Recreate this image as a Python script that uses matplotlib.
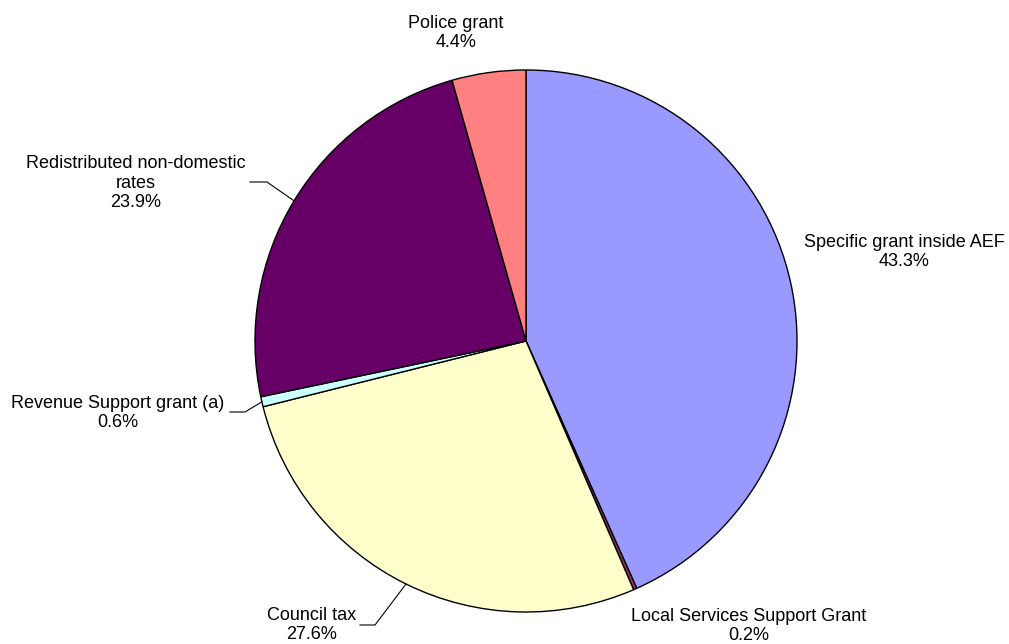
import numpy as np
import matplotlib.pyplot as plt

plt.rcParams['font.family'] = ['Liberation Sans', 'DejaVu Sans']

labels = ['Specific grant inside AEF', 'Local Services Support Grant', 'Council tax',
          'Revenue Support grant (a)', 'Redistributed non-domestic\nrates', 'Police grant']
shares = [43.3, 0.2, 27.6, 0.6, 23.9, 4.4]
colors = ['#9999FF', '#993366', '#FFFFCC', '#CCFFFF', '#660066', '#FF8080']

# label centres (pixels from top-left) and optional leader elbow/end
label_pos = [(904, 252), (749, 626), (312, 625), (118, 413), (136, 183), (456, 33)]
leaders = [None, None, ((375, 625), (360, 625)), ((245, 412), (230, 412)),
           ((267, 182), (250, 182)), None]

W, H = 1009, 644
cx, cy, r = 526, 341, 271

fig = plt.figure(figsize=(W / 100, H / 100), dpi=100)
ax = fig.add_axes([0, 0, 1, 1])

wedges, _ = ax.pie(shares, colors=colors, startangle=90, counterclock=False,
                   center=(cx, H - cy), radius=r,
                   wedgeprops=dict(edgecolor='black', linewidth=1.0))
ax.set_xlim(0, W)
ax.set_ylim(0, H)
ax.set_aspect('equal')
ax.axis('off')

for w, lab, v, pos, ld in zip(wedges, labels, shares, label_pos, leaders):
    ax.text(pos[0], H - pos[1], f'{lab}\n{v:.1f}%', ha='center', va='center',
            fontsize=13, linespacing=1.2)
    if ld is not None:
        mid = np.deg2rad((w.theta1 + w.theta2) / 2)
        ex, ey = cx + r * np.cos(mid), (H - cy) + r * np.sin(mid)
        xs = [ex, ld[0][0], ld[1][0]]
        ys = [ey, H - ld[0][1], H - ld[1][1]]
        ax.plot(xs, ys, color='black', linewidth=0.8)

fig.savefig('out.png', dpi=100)
